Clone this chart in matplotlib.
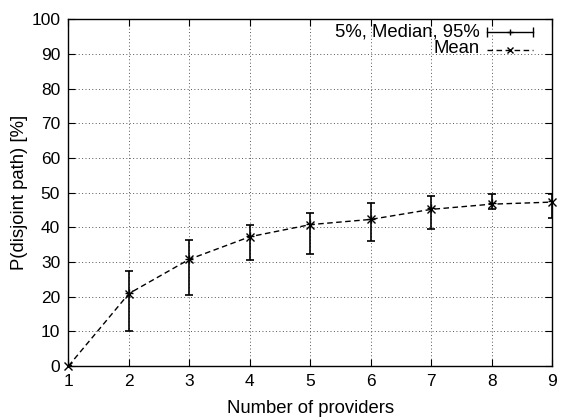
import matplotlib
matplotlib.use("Agg")
import matplotlib.pyplot as plt
from matplotlib.lines import Line2D

plt.rcParams['font.family'] = ['Liberation Sans', 'DejaVu Sans']

providers = [1, 2, 3, 4, 5, 6, 7, 8, 9]
mean_vals = [0, 20.9, 30.8, 37.3, 40.8, 42.3, 45.2, 46.7, 47.3]
median_vals = [0, 21.0, 31.0, 37.5, 41.0, 42.5, 45.5, 47.0, 47.5]
p5_vals = [0, 10.1, 20.4, 30.7, 32.3, 36.0, 39.5, 45.3, 42.7]
p95_vals = [0, 27.5, 36.4, 40.8, 44.1, 46.9, 49.0, 49.5, 49.6]
legend_labels = ['5%, Median, 95%', 'Mean']

fig = plt.figure(figsize=(5.61, 4.17), dpi=100)
ax = fig.add_axes([0.1221, 0.1223, 0.8619, 0.831])

lo = [m - p for m, p in zip(median_vals, p5_vals)]
hi = [p - m for m, p in zip(median_vals, p95_vals)]
ax.errorbar(providers, median_vals, yerr=[lo, hi], fmt='+', color='black',
            ecolor='black', elinewidth=1.2, capsize=3, capthick=1.2,
            markersize=6, zorder=4)
mean_style = dict(linestyle=(0, (4, 2.5)), color='black', lw=1.0,
                  marker='x', markeredgewidth=1.0)
ax.plot(providers, mean_vals, markersize=6, zorder=5, clip_on=False,
        **mean_style)

ax.set_xlim(1, 9)
ax.set_ylim(0, 100)
ax.set_xticks(providers)
ax.set_yticks(range(0, 101, 10))
ax.grid(True, linestyle=(0, (1, 2.5)), color='#555555', linewidth=0.7)
ax.tick_params(direction='in', length=5, width=0.8, top=True, right=True,
               labelsize=12.5, pad=6, colors='black')
for s in ax.spines.values():
    s.set_linewidth(1.0)
ax.set_xlabel('Number of providers', fontsize=13.3, labelpad=8)
ax.set_ylabel('P(disjoint path) [%]', fontsize=13.3, labelpad=2)

# key (gnuplot-style, drawn in axes coordinates)
tr = ax.transAxes
text_x, h0, h1, hmid = 0.8511, 0.8656, 0.9607, 0.9132
row_text_y = [0.9639, 0.9163]
row_line_y = [0.9639, 0.9120]
ax.text(text_x, row_text_y[0], legend_labels[0], transform=tr, ha='right',
        va='center', fontsize=13.3)
ax.text(text_x, row_text_y[1], legend_labels[1], transform=tr, ha='right',
        va='center', fontsize=13.3)
ax.add_line(Line2D([h0, h1], [row_line_y[0]] * 2, transform=tr, color='black',
                   lw=1.0, marker='|', markersize=7, markeredgewidth=1.0,
                   clip_on=False))
ax.add_line(Line2D([hmid], [row_line_y[0]], transform=tr, color='black',
                   marker='+', markersize=5, lw=0, clip_on=False))
ax.add_line(Line2D([h0, h1], [row_line_y[1]] * 2, transform=tr,
                   linestyle=(0, (4, 2.5)), color='black', lw=1.0,
                   clip_on=False))
ax.add_line(Line2D([hmid], [row_line_y[1]], transform=tr, color='black',
                   marker='x', markersize=5, markeredgewidth=1.0, lw=0,
                   clip_on=False))

fig.savefig('out.png', dpi=100)
